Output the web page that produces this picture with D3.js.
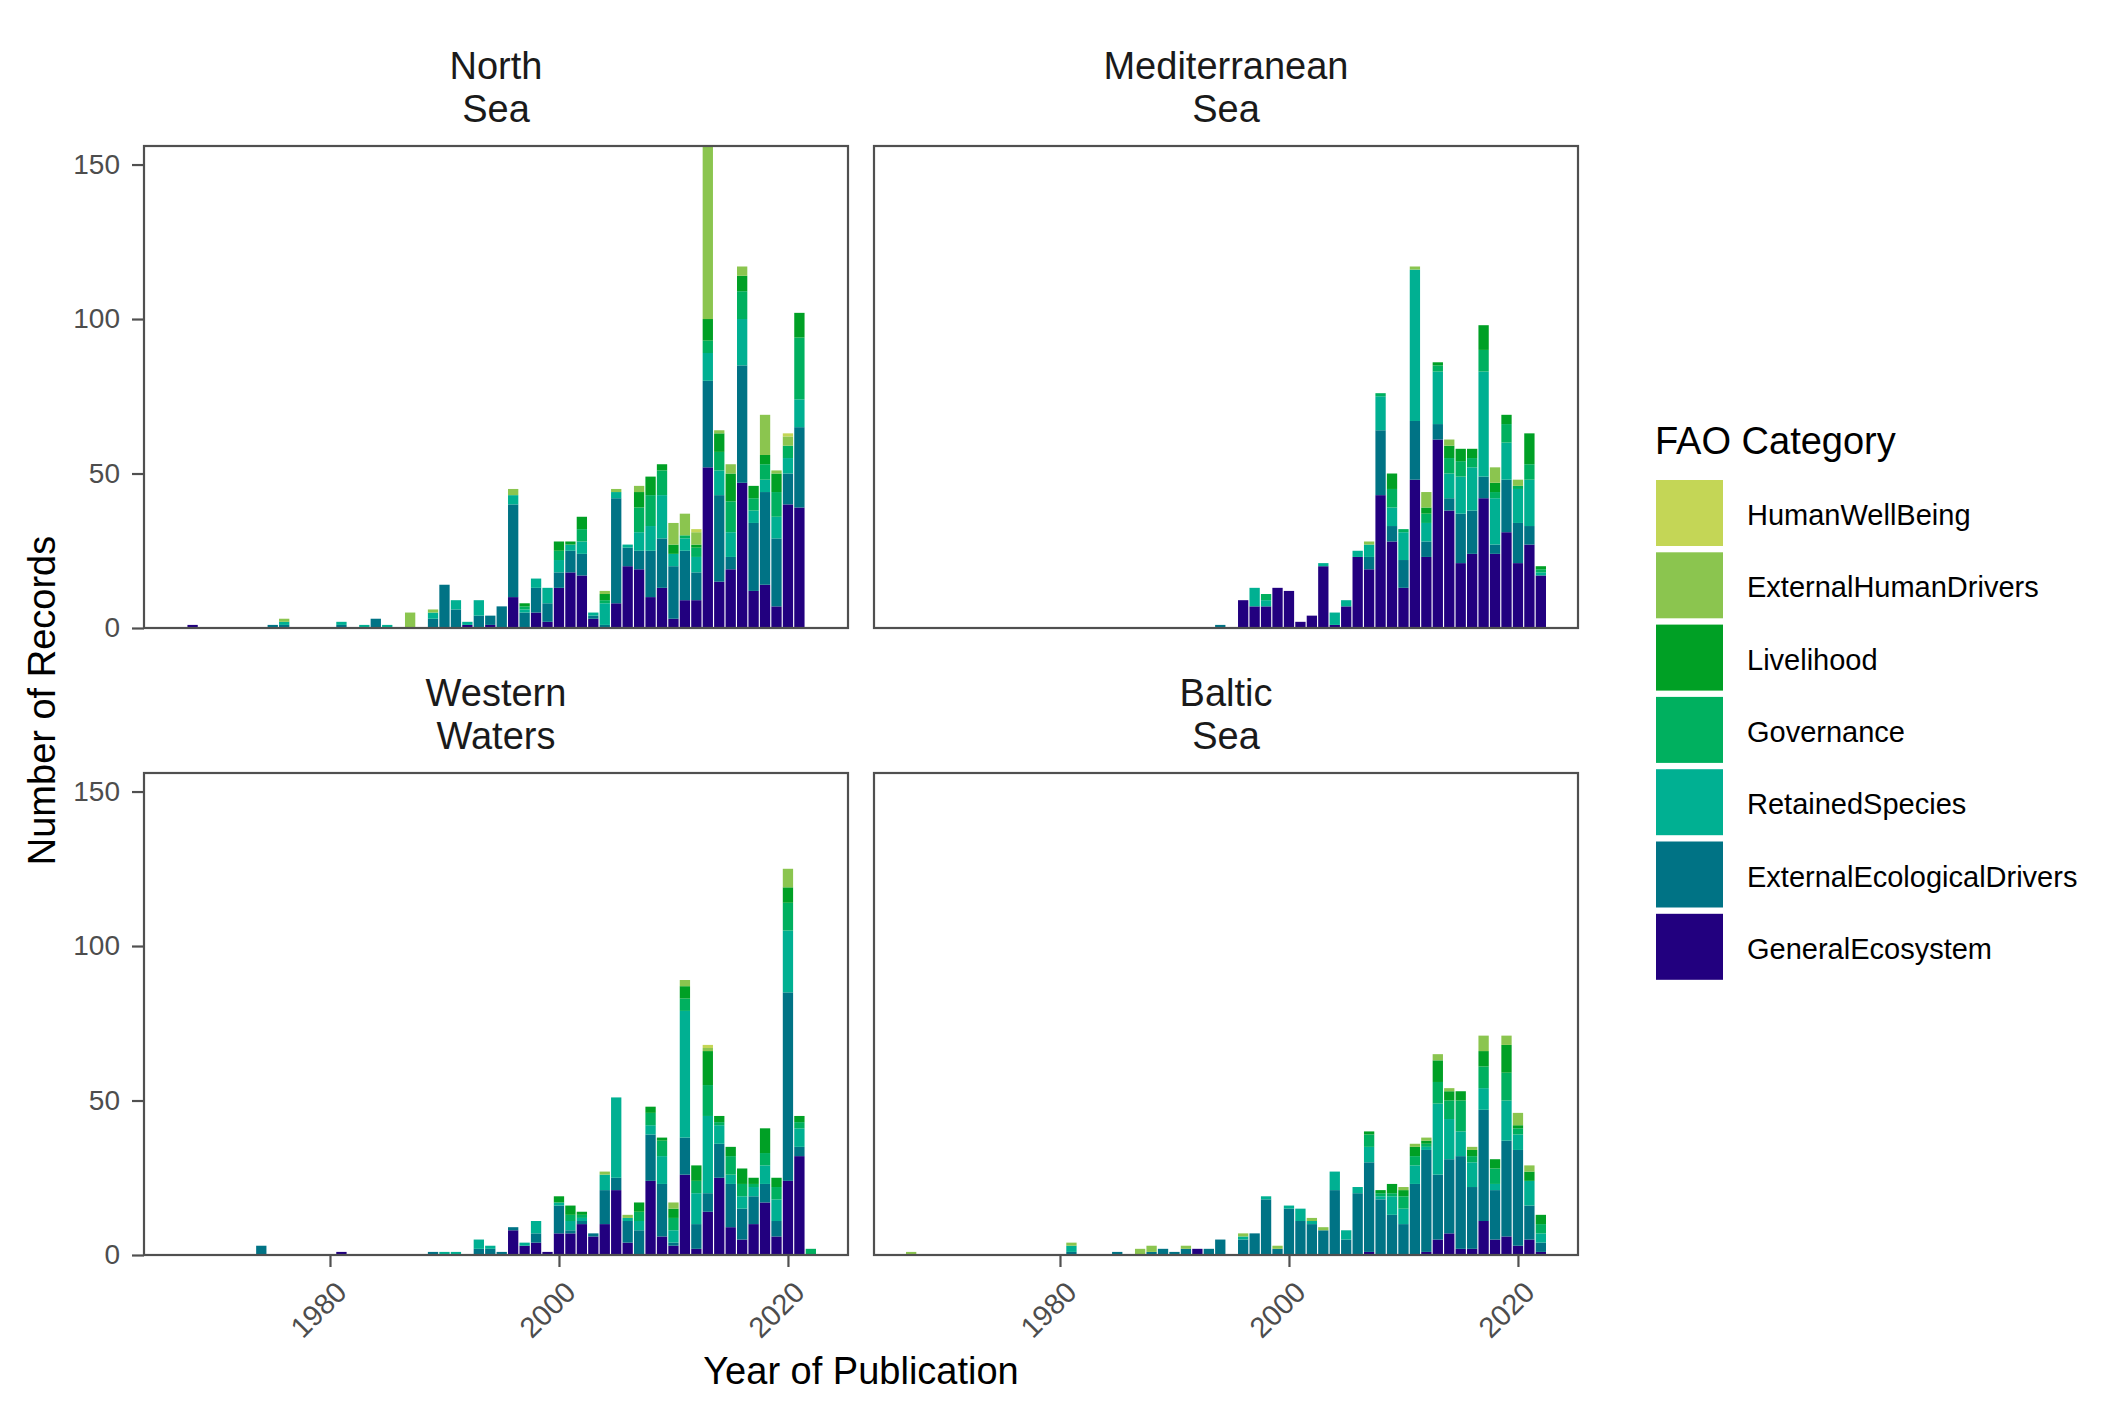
<!DOCTYPE html>
<html>
<head>
<meta charset="utf-8">
<script src="https://cdn.jsdelivr.net/npm/d3@7"></script>
<style>
  body { margin: 0; background: #fff; }
  text { font-family: "Liberation Sans", Arial, sans-serif; }
</style>
</head>
<body>
<script>

//categories, bottom of the stack first
var categories = ["GeneralEcosystem", "ExternalEcologicalDrivers", "RetainedSpecies",
                  "Governance", "Livelihood", "ExternalHumanDrivers", "HumanWellBeing"];
var colors = ["#22007f", "#007385", "#00b092", "#00b05f", "#00a025", "#8bc54f", "#c4d656"];

var xTicks = [1980, 2000, 2020];
var yTicks = [0, 50, 100, 150];

//North Sea
var northYears = [1968,1975,1976,1981,1983,1984,1985,1987,1989,1990,1991,1992,1993,1994,1995,1996,1997,1998,1999,2000,
                  2001,2002,2003,2004,2005,2006,2007,2008,2009,2010,2011,2012,2013,2014,2015,2016,2017,2018,2019,2020,2021];
var northGE  = [1,0,0,0,0,0,0,0,0,0,0,1,0,1,0,10,0,5,2,13, 18,17,3,0,8,20,19,10,13,3,9,9,52,15,19,47,12,14,7,40,39];
var northEED = [0,1,1,1,0,3,0,0,3,14,6,0,4,3,7,30,5,8,6,5, 7,7,1,1,34,6,6,15,16,17,16,9,28,28,4,38,22,30,22,10,26];
var northRS  = [0,0,1,1,1,0,1,0,2,0,3,1,5,0,0,3,1,3,5,4, 2,4,1,7,2,1,6,8,14,4,4,5,9,8,8,15,4,4,7,5,9];
var northGov = [0,0,0,0,0,0,0,0,0,0,0,0,0,0,0,0,1,0,0,3, 0,4,0,1,0,0,8,10,8,0,1,3,4,6,10,9,4,5,8,4,20];
var northLiv = [0,0,0,0,0,0,0,0,0,0,0,0,0,0,0,0,1,0,0,3, 1,4,0,2,0,0,5,6,2,3,0,1,7,6,9,5,4,3,6,0,8];
var northEHD = [0,0,1,0,0,0,0,5,1,0,0,0,0,0,0,2,0,0,0,0, 0,0,0,1,1,0,2,0,0,7,7,4,56,1,3,3,0,13,1,3,0];
var northHWB = [0,0,0,0,0,0,0,0,0,0,0,0,0,0,0,0,0,0,0,0, 0,0,0,0,0,0,0,0,0,0,0,1,0,0,0,0,0,0,0,1,0];

//Mediterranean Sea
var medYears = [1994,1996,1997,1998,1999,2000,2001,2002,2003,2004,2005,2006,2007,2008,
                2009,2010,2011,2012,2013,2014,2015,2016,2017,2018,2019,2020,2021,2022];
var medGE  = [0,9,7,7,13,12,2,4,20,1,7,23,19,43, 28,13,48,23,61,38,21,24,42,24,31,21,27,17];
var medEED = [1,0,0,0,0,0,0,0,0,0,0,0,4,21, 5,9,19,5,5,4,16,14,7,3,17,13,6,0];
var medRS  = [0,0,6,2,0,0,0,0,1,4,2,2,4,11, 6,9,49,6,17,8,12,14,34,15,12,11,15,1];
var medGov = [0,0,0,2,0,0,0,0,0,0,0,0,0,1, 6,1,0,3,2,5,5,3,7,2,6,1,5,1];
var medLiv = [0,0,0,0,0,0,0,0,0,0,0,0,0,0, 5,0,0,2,1,4,4,3,8,3,3,0,10,1];
var medEHD = [0,0,0,0,0,0,0,0,0,0,0,0,1,0, 0,0,1,5,0,2,0,0,0,5,0,2,0,0];
var medHWB = [0,0,0,0,0,0,0,0,0,0,0,0,0,0, 0,0,0,0,0,0,0,0,0,0,0,0,0,0];

//Western Waters
var westYears = [1974,1981,1989,1990,1991,1993,1994,1995,1996,1997,1998,1999,2000,2001,2002,2003,2004,2005,
                 2006,2007,2008,2009,2010,2011,2012,2013,2014,2015,2016,2017,2018,2019,2020,2021,2022];
var westGE  = [0,1,0,0,0,0,0,0,8,3,4,1,7,7,10,6,10,21, 4,0,24,6,3,26,2,14,25,9,5,10,17,6,24,32,0];
var westEED = [3,0,1,0,0,2,2,1,1,0,3,0,9,1,1,1,11,4, 7,8,15,17,1,12,8,6,11,14,10,9,6,5,61,3,0];
var westRS  = [0,0,0,1,1,3,1,0,0,1,4,0,1,3,1,0,5,26, 1,3,3,9,4,41,10,25,6,3,4,3,6,7,20,6,0];
var westGov = [0,0,0,0,0,0,0,0,0,0,0,0,0,2,1,0,0,0, 0,3,4,5,4,4,4,10,1,6,4,1,4,4,9,2,2];
var westLiv = [0,0,0,0,0,0,0,0,0,0,0,0,2,3,1,0,0,0, 0,3,2,1,3,4,5,11,2,3,5,2,8,3,5,2,0];
var westEHD = [0,0,0,0,0,0,0,0,0,0,0,0,0,0,0,0,1,0, 1,0,0,0,2,2,0,1,0,0,0,0,0,0,6,0,0];
var westHWB = [0,0,0,0,0,0,0,0,0,0,0,0,0,0,0,0,0,0, 0,0,0,0,0,0,0,1,0,0,0,0,0,0,0,0,0];

//Baltic Sea
var balticYears = [1967,1981,1985,1987,1988,1989,1990,1991,1992,1993,1994,1996,1997,1998,1999,2000,2001,2002,2003,
                   2004,2005,2006,2007,2008,2009,2010,2011,2012,2013,2014,2015,2016,2017,2018,2019,2020,2021,2022];
var balticGE  = [0,0,0,0,0,0,0,0,2,0,0,0,0,0,0,0,0,0,0, 0,0,0,1,0,0,0,0,1,5,7,2,2,11,5,6,3,5,1];
var balticEED = [0,1,1,0,1,2,1,2,0,2,5,5,7,18,2,15,11,10,8, 21,5,20,29,18,13,10,23,33,21,24,30,20,36,16,31,31,11,3];
var balticRS  = [0,2,0,0,0,0,0,0,0,0,0,1,0,1,0,1,4,1,0, 6,3,2,5,1,6,5,6,1,23,13,8,8,7,2,13,5,8,3];
var balticGov = [0,0,0,0,0,0,0,0,0,0,0,0,0,0,0,0,0,0,0, 0,0,0,4,1,1,4,3,1,7,6,10,2,7,5,9,2,0,3];
var balticLiv = [0,0,0,0,0,0,0,0,0,0,0,0,0,0,0,0,0,0,0, 0,0,0,1,1,3,2,3,1,7,3,3,2,5,3,9,1,3,3];
var balticEHD = [1,1,0,2,2,0,0,1,0,0,0,1,0,0,1,0,0,1,1, 0,0,0,0,0,0,1,1,1,2,1,0,1,5,0,3,4,2,0];
var balticHWB = [0,0,0,0,0,0,0,0,0,0,0,0,0,0,0,0,0,0,0, 0,0,0,0,0,0,0,0,0,0,0,0,0,0,0,0,0,0,0];

//facet layout (2 x 2, fixed scales)
var facets = [
  {title: ["North", "Sea"], col: 0, row: 0, years: northYears,
   values: [northGE, northEED, northRS, northGov, northLiv, northEHD, northHWB]},
  {title: ["Mediterranean", "Sea"], col: 1, row: 0, years: medYears,
   values: [medGE, medEED, medRS, medGov, medLiv, medEHD, medHWB]},
  {title: ["Western", "Waters"], col: 0, row: 1, years: westYears,
   values: [westGE, westEED, westRS, westGov, westLiv, westEHD, westHWB]},
  {title: ["Baltic", "Sea"], col: 1, row: 1, years: balticYears,
   values: [balticGE, balticEED, balticRS, balticGov, balticLiv, balticEHD, balticHWB]}
];

var width = 2125,
    height = 1417;

var panelW = 704,
    panelH = 482,
    colX = [144, 874],
    rowY = [146, 773];

var ink = "#505050";

var svg = d3.select("body").append("svg")
    .attr("width", width)
    .attr("height", height);

//turn the arrays into one row per year
facets.forEach(function(f) {
  f.rows = f.years.map(function(yr, i) {
    var r = {year: yr};
    categories.forEach(function(c, k) { r[c] = f.values[k][i]; });
    return r;
  });
});

//x scale: bar width 0.9, 5% padding like ggplot
var allYears = d3.merge(facets.map(function(f) { return f.years; }));
var lo = d3.min(allYears) - 0.45,
    hi = d3.max(allYears) + 0.45,
    pad = (hi - lo) * 0.05;

var x = d3.scaleLinear()
    .domain([lo - pad, hi + pad])
    .range([0, panelW]);

//y scale starts at 0 and ends at the tallest stack
var maxTotal = d3.max(facets, function(f) {
  return d3.max(f.rows, function(r) { return d3.sum(categories, function(c) { return r[c]; }); });
});

var y = d3.scaleLinear()
    .domain([0, maxTotal])
    .range([panelH, 0]);

var color = d3.scaleOrdinal()
    .domain(categories)
    .range(colors);

var stack = d3.stack().keys(categories);

facets.forEach(function(f) {
  var g = svg.append("g")
      .attr("transform", "translate(" + colX[f.col] + "," + rowY[f.row] + ")");

  //strip title, two lines
  g.append("text")
      .attr("x", panelW / 2)
      .attr("y", -67)
      .attr("text-anchor", "middle")
      .style("font-size", "38px")
      .style("fill", "#1a1a1a")
      .text(f.title[0]);
  g.append("text")
      .attr("x", panelW / 2)
      .attr("y", -24)
      .attr("text-anchor", "middle")
      .style("font-size", "38px")
      .style("fill", "#1a1a1a")
      .text(f.title[1]);

  //stacked bars
  var layer = g.selectAll("g.layer")
      .data(stack(f.rows))
    .enter().append("g")
      .attr("class", "layer")
      .attr("fill", function(d) { return color(d.key); });

  layer.selectAll("rect")
      .data(function(d) { return d.filter(function(s) { return s[1] > s[0]; }); })
    .enter().append("rect")
      .attr("x", function(d) { return x(d.data.year - 0.45); })
      .attr("width", function(d) { return x(d.data.year + 0.45) - x(d.data.year - 0.45); })
      .attr("y", function(d) { return y(d[1]); })
      .attr("height", function(d) { return y(d[0]) - y(d[1]); });

  //y axis only on the left column
  if (f.col === 0) {
    var ya = g.append("g")
        .call(d3.axisLeft(y).tickValues(yTicks).tickSize(12).tickPadding(12));
    ya.select(".domain").remove();
    ya.selectAll("line").attr("stroke", ink).attr("stroke-width", 2.2);
    ya.selectAll("text")
        .style("font-size", "28px")
        .attr("fill", "#4d4d4d");
  }

  //x axis only on the bottom row
  if (f.row === 1) {
    var xa = g.append("g")
        .attr("transform", "translate(0," + panelH + ")")
        .call(d3.axisBottom(x).tickValues(xTicks).tickSize(12).tickFormat(d3.format("d")));
    xa.select(".domain").remove();
    xa.selectAll("line").attr("stroke", ink).attr("stroke-width", 2.2);
    xa.selectAll("text")
        .attr("y", null)
        .attr("dy", null)
        .attr("text-anchor", "end")
        .attr("transform", "translate(18,39) rotate(-45)")
        .style("font-size", "29px")
        .attr("fill", "#4d4d4d");
  }

  //panel border on top of the bars
  g.append("rect")
      .attr("width", panelW)
      .attr("height", panelH)
      .attr("fill", "none")
      .attr("stroke", ink)
      .attr("stroke-width", 2.2);
});

//axis titles
svg.append("text")
    .attr("x", (colX[0] + colX[1] + panelW) / 2)
    .attr("y", 1384)
    .attr("text-anchor", "middle")
    .style("font-size", "38px")
    .text("Year of Publication");

svg.append("text")
    .attr("transform", "translate(55," + (rowY[0] + rowY[1] + panelH) / 2 + ") rotate(-90)")
    .attr("text-anchor", "middle")
    .style("font-size", "38px")
    .text("Number of Records");

//legend, top category first
var legend = svg.append("g")
    .attr("transform", "translate(1655,454)");

legend.append("text")
    .style("font-size", "38px")
    .text("FAO Category");

var key = legend.selectAll("g.key")
    .data(categories.slice().reverse())
  .enter().append("g")
    .attr("class", "key")
    .attr("transform", function(d, i) { return "translate(1," + (26 + i * 72.3) + ")"; });

key.append("rect")
    .attr("width", 67)
    .attr("height", 66)
    .attr("fill", function(d) { return color(d); });

key.append("text")
    .attr("x", 91)
    .attr("y", 45)
    .style("font-size", "29px")
    .text(function(d) { return d; });

</script>
</body>
</html>
